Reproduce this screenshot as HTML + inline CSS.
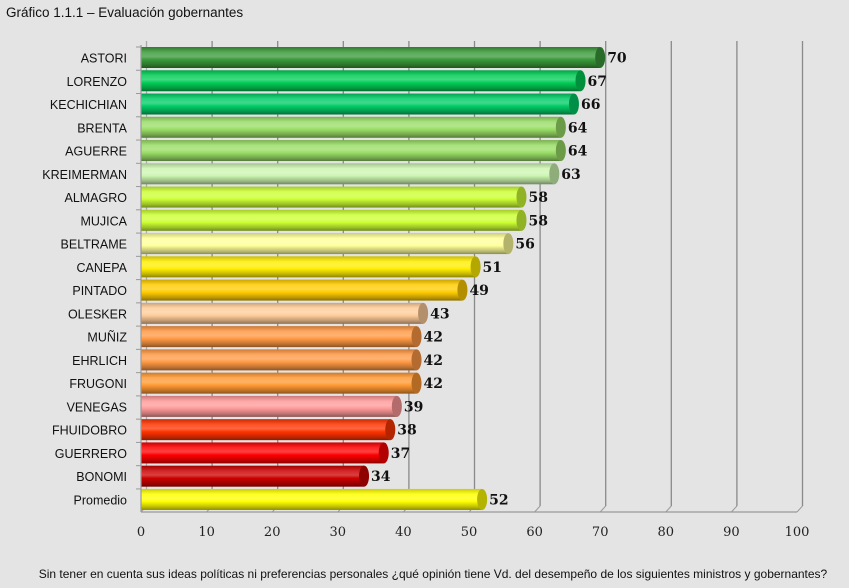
<!DOCTYPE html>
<html><head><meta charset="utf-8"><style>
body{margin:0;background:#e4e4e4;}
svg{display:block;font-family:"Liberation Sans",sans-serif;}
</style></head><body>
<svg id="c" width="849" height="588">
<rect width="849" height="588" fill="#e4e4e4"/>
<text x="6" y="17" font-size="13.5" fill="#111">Gráfico 1.1.1 – Evaluación gobernantes</text>
<text x="433" y="578" font-size="12" fill="#111" text-anchor="middle">Sin tener en cuenta sus ideas políticas ni preferencias personales ¿qué opinión tiene Vd. del desempeño de los siguientes ministros y gobernantes?</text>
<g id="grid"></g><g id="bars"></g><g id="axis"></g>
</svg>
<script>
const categories=["ASTORI","LORENZO","KECHICHIAN","BRENTA","AGUERRE","KREIMERMAN","ALMAGRO","MUJICA","BELTRAME","CANEPA","PINTADO","OLESKER","MUÑIZ","EHRLICH","FRUGONI","VENEGAS","FHUIDOBRO","GUERRERO","BONOMI","Promedio"];
const values=[70,67,66,64,64,63,58,58,56,51,49,43,42,42,42,39,38,37,34,52];
const colors=["#3a9a3a","#00cc55","#00cc66","#99dd66","#99dd66","#ccf5b0","#ccff33","#ccff33","#ffff99","#ffee00","#ffcc00","#ffcc99","#ff9944","#ff9944","#ff9933","#ff9999","#ff3300","#ff0000","#cc0000","#ffff00"];
const ticks=[0,10,20,30,40,50,60,70,80,90,100];
const NS="http://www.w3.org/2000/svg";
const x0=141,scale=6.56,dx=5.5,dy=-6,rowTop=47,rowH=23.26,barH=21,baseY=512;
const xs=v=>x0+v*scale;
function mk(tag,attrs,parent){const e=document.createElementNS(NS,tag);for(const k in attrs)e.setAttribute(k,attrs[k]);parent.appendChild(e);return e;}
const svg=document.getElementById('c'),grid=document.getElementById('grid'),bars=document.getElementById('bars'),axis=document.getElementById('axis');
const defs=mk('defs',{},svg);
function shade(hex,f){let n=parseInt(hex.slice(1),16),r=n>>16,g=(n>>8)&255,b=n&255;const m=c=>Math.max(0,Math.min(255,Math.round(f>1?c+(255-c)*(f-1):c*f)));return `rgb(${m(r)},${m(g)},${m(b)})`;}
ticks.forEach(t=>{
 const l=mk('line',{x1:xs(t)+dx,y1:41,x2:xs(t)+dx,y2:baseY+dy,stroke:t===0?'#aaa':'#8a8a8a','stroke-width':1.3},grid);
 
 
 const d=mk('line',{x1:xs(t),y1:baseY,x2:xs(t)+dx,y2:baseY+dy,stroke:'#999'},grid);
 
 
 const tx=mk('text',{x:xs(t),y:536,'font-size':13,'text-anchor':'middle',fill:'#222','font-family':'"DejaVu Serif",serif'},axis);
 tx.textContent=t;
 
 
});
const bl=mk('line',{x1:x0,y1:baseY,x2:xs(100),y2:baseY,stroke:'#999','stroke-width':1.2},axis);


const ll=mk('line',{x1:x0,y1:45,x2:x0,y2:baseY,stroke:'#999','stroke-width':1.2},axis);


categories.forEach((c,i)=>{
 const y=rowTop+i*rowH, col=colors[i], w=xs(values[i])-x0;
 const gid='g'+i;
 const lg=mk('linearGradient',{id:gid,x1:0,y1:0,x2:0,y2:1},defs);
 [[0,shade(col,0.8)],[0.25,shade(col,1.15)],[0.45,shade(col,1.25)],[0.6,col],[0.85,shade(col,0.75)],[1,shade(col,0.55)]].forEach(s=>mk('stop',{offset:s[0],'stop-color':s[1]},lg));
 const g=mk('g',{},bars);
 
 
 mk('rect',{x:x0,y:y,width:w,height:barH,fill:`url(#${gid})`},g);
 mk('ellipse',{cx:x0+w,cy:y+barH/2,rx:5,ry:barH/2,fill:shade(col,0.7)},g);
 const lab=mk('text',{x:127,y:y+barH/2+5,'font-size':12.5,'text-anchor':'end',fill:'#111'},axis);
 lab.textContent=c;
 
 
 const tk=mk('line',{x1:x0-5,y1:y,x2:x0,y2:y,stroke:'#999'},axis);
 
 
 const vl=mk('text',{x:x0+w+7,y:y+barH/2+5,'font-size':14,'font-weight':'bold',fill:'#111','font-family':'"DejaVu Serif",serif'},axis);
 vl.textContent=values[i];
 
 
});
</script>
</body></html>
